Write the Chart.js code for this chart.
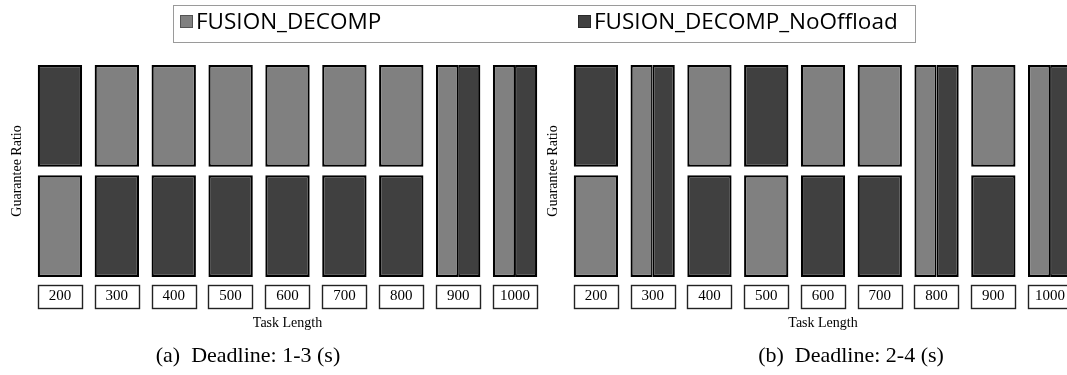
<!DOCTYPE html>
<html>
<head>
<meta charset="utf-8">
<script src="https://cdn.jsdelivr.net/npm/chart.js@4.4.1/dist/chart.umd.min.js"></script>
<style>
  html, body { margin: 0; padding: 0; background: #fff; }
  body { width: 1067px; height: 375px; overflow: hidden; position: relative; }
  .abs { position: absolute; }
  #legendBox { left: 173px; top: 5px; width: 743px; height: 38px; border: 1px solid #9a9a9a; box-sizing: border-box; }
  #legendBox canvas { display: block; }
  #panelA { left: 0; top: 55px; }
  #panelB { left: 536px; top: 55px; }
  .cap { position: absolute; top: 341px; font-family: "Liberation Serif", "Times New Roman", serif; font-size: 22px; line-height: 27px; color: #000; white-space: nowrap; transform: translateX(-50%); }
</style>
</head>
<body>
<div id="legendBox" class="abs"><canvas id="legend" width="741" height="36"></canvas></div>
<canvas id="panelA" class="abs" width="545" height="290"></canvas>
<canvas id="panelB" class="abs" width="545" height="290"></canvas>
<div class="cap" style="left:248px">(a)&nbsp; Deadline: 1-3 (s)</div>
<div class="cap" style="left:851px">(b)&nbsp; Deadline: 2-4 (s)</div>

<script>
// Task lengths on the x axis
const taskLengths = ['200', '300', '400', '500', '600', '700', '800', '900', '1000'];

// Guarantee-ratio rank of each method per task length:
// 1 = upper box (better), 2 = lower box; equal ranks are drawn side by side
const rankFusionA    = [2, 1, 1, 1, 1, 1, 1, 1, 1];
const rankNoOffloadA = [1, 2, 2, 2, 2, 2, 2, 1, 1];
const rankFusionB    = [2, 1, 1, 2, 1, 1, 1, 1, 1];
const rankNoOffloadB = [1, 1, 2, 1, 2, 2, 1, 2, 1];

const seriesNames = ['FUSION_DECOMP', 'FUSION_DECOMP_NoOffload'];

const LIGHT = '#808080';
const DARK = '#404040';
const EDGE = '#000000';
const CAT_PCT = 0.78;
const GAP = 0.08;        // vertical gap between upper and lower boxes (rank units)
const BW = 2.2;          // box outline width
const MID = 1.6;         // half of the divider between side-by-side boxes
const SERIF = '"Liberation Serif", "Times New Roman", serif';

// Rank -> vertical span of a box on the 0..2 scale
function soloSpan(own, other) {
  if (own === other) return null;
  return own === 1 ? [1 + GAP / 2, 2] : [0, 1 - GAP / 2];
}
function tieSpan(own, other) {
  return own === other ? [0, 2] : null;
}

function panelDatasets(rf, rn) {
  const common = { borderColor: EDGE, borderSkipped: false, categoryPercentage: CAT_PCT, barPercentage: 1 };
  return [
    Object.assign({ label: seriesNames[0], backgroundColor: LIGHT, grouped: false, borderWidth: BW,
      data: rf.map((r, i) => soloSpan(r, rn[i])) }, common),
    Object.assign({ label: seriesNames[1], backgroundColor: DARK, grouped: false, borderWidth: BW,
      data: rn.map((r, i) => soloSpan(r, rf[i])) }, common),
    Object.assign({ label: seriesNames[0], backgroundColor: LIGHT, grouped: true, skipNull: true,
      borderWidth: { top: BW, bottom: BW, left: BW, right: MID },
      data: rf.map((r, i) => tieSpan(r, rn[i])) }, common),
    Object.assign({ label: seriesNames[1], backgroundColor: DARK, grouped: true, skipNull: true,
      borderWidth: { top: BW, bottom: BW, left: MID, right: BW },
      data: rn.map((r, i) => tieSpan(r, rf[i])) }, common)
  ];
}

// Frames drawn around every task-length label
const tickFrames = {
  id: 'tickFrames',
  afterDraw(chart) {
    const x = chart.scales.x;
    const ctx = chart.ctx;
    const w = (x.width / x.ticks.length) * CAT_PCT;
    const font = Chart.helpers.toFont(x.options.ticks.font);
    const cy = x.top + x.options.ticks.padding + font.lineHeight / 2;
    const h = 23;
    ctx.save();
    ctx.strokeStyle = '#222';
    ctx.lineWidth = 1.4;
    x.ticks.forEach((t, i) => {
      const px = x.getPixelForTick(i);
      ctx.strokeRect(Math.round(px - w / 2) + 0.5, Math.round(cy - h / 2) + 0.5, Math.round(w), h);
    });
    ctx.restore();
  }
};

function panelOptions(padRight) {
  return {
    responsive: false,
    animation: false,
    layout: { padding: { top: 10, right: padRight, bottom: 9.2, left: 0 } },
    plugins: { legend: { display: false }, tooltip: { enabled: false } },
    scales: {
      x: {
        type: 'category',
        offset: true,
        grid: { display: false, drawTicks: false },
        border: { display: false },
        ticks: { padding: 10, color: '#000', font: { family: SERIF, size: 15 }, maxRotation: 0, autoSkip: false },
        title: { display: true, text: 'Task Length', color: '#000', font: { family: SERIF, size: 14 }, padding: { top: 0, bottom: 4 } }
      },
      y: {
        min: 0,
        max: 2,
        grid: { display: false, drawTicks: false },
        border: { display: false },
        ticks: { display: false },
        title: { display: true, text: 'Guarantee Ratio', color: '#000', font: { family: SERIF, size: 14 }, padding: { top: 8.6, bottom: 6.1 } }
      }
    }
  };
}

new Chart(document.getElementById('panelA'), {
  type: 'bar',
  data: { labels: taskLengths, datasets: panelDatasets(rankFusionA, rankNoOffloadA) },
  options: panelOptions(1.5),
  plugins: [tickFrames]
});

new Chart(document.getElementById('panelB'), {
  type: 'bar',
  data: { labels: taskLengths, datasets: panelDatasets(rankFusionB, rankNoOffloadB) },
  options: panelOptions(2.5),
  plugins: [tickFrames]
});

// Shared legend row for both panels
const legendRow = {
  id: 'legendRow',
  afterDraw(chart) {
    const ctx = chart.ctx;
    const starts = [6, 404];
    ctx.save();
    ctx.font = '22.5px "Open Sans", "Noto Sans", sans-serif';
    ctx.textBaseline = 'middle';
    ctx.textAlign = 'left';
    chart.data.datasets.forEach((ds, i) => {
      const x0 = starts[i];
      ctx.fillStyle = ds.backgroundColor;
      ctx.fillRect(x0, 9, 13, 13);
      ctx.strokeStyle = 'rgba(0,0,0,0.35)';
      ctx.lineWidth = 1;
      ctx.strokeRect(x0 + 0.5, 9.5, 12, 12);
      ctx.fillStyle = '#000';
      ctx.fillText(ds.label, x0 + 16, 17);
    });
    ctx.restore();
  }
};

new Chart(document.getElementById('legend'), {
  type: 'bar',
  data: {
    labels: [],
    datasets: [
      { label: seriesNames[0], backgroundColor: LIGHT, data: [] },
      { label: seriesNames[1], backgroundColor: DARK, data: [] }
    ]
  },
  options: {
    responsive: false,
    animation: false,
    plugins: { legend: { display: false }, tooltip: { enabled: false } },
    scales: { x: { display: false }, y: { display: false } }
  },
  plugins: [legendRow]
});
</script>
</body>
</html>
